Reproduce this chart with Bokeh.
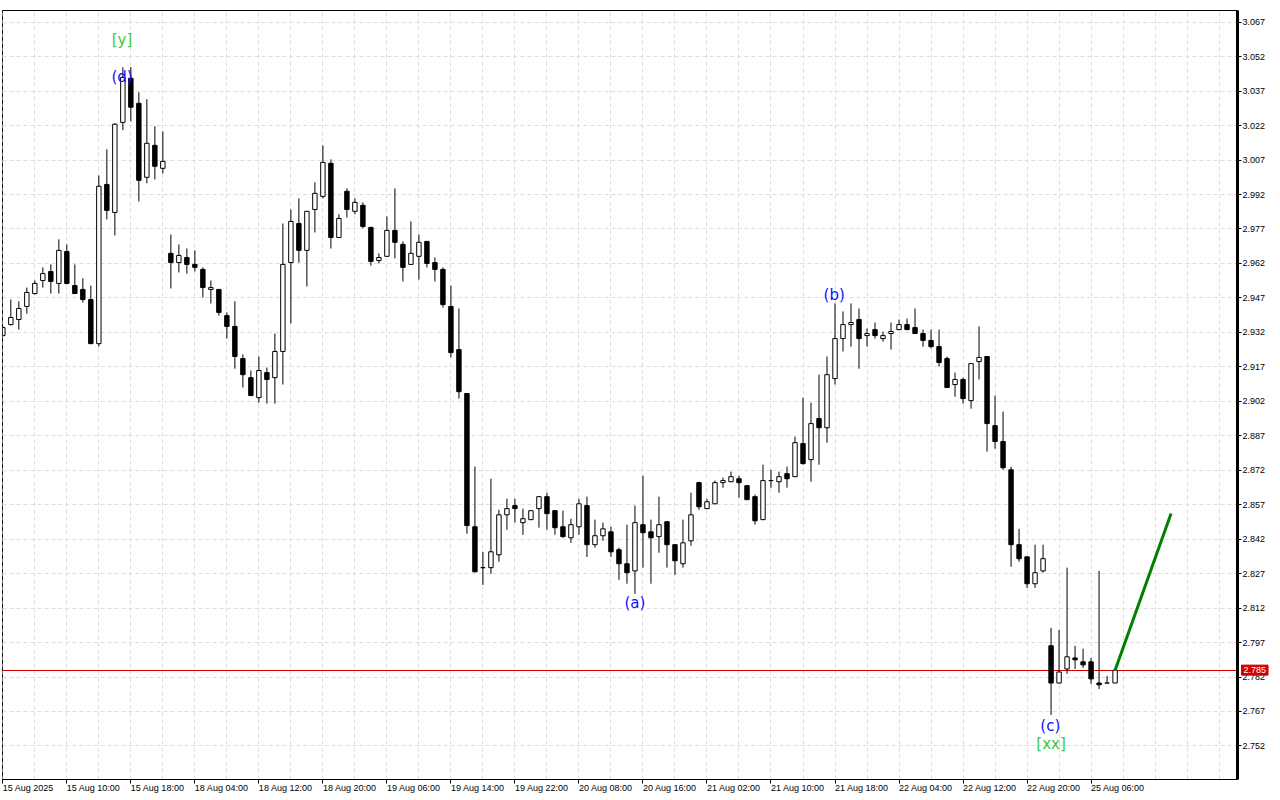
from bokeh.plotting import figure
from bokeh.models import Range1d, FixedTicker, Label, PrintfTickFormatter, ColumnDataSource
from bokeh.core.properties import value
from bokeh.embed import file_html
from bokeh.resources import INLINE

# ---------------- data (H1 candles) ----------------
opens = [2.9306, 2.9354, 2.9376, 2.9433, 2.9489, 2.9546, 2.9585, 2.9533, 2.9672, 2.9524,
         2.9507, 2.9463, 2.9271, 2.9964, 2.9842, 3.0234, 3.0426, 3.0317, 2.9995, 3.0134,
         3.0034, 2.9664, 2.9624, 2.9646, 2.9616, 2.9594, 2.9507, 2.9507, 2.9393, 2.9346,
         2.9206, 2.9123, 2.9036, 2.9145, 2.9123, 2.9237, 2.9624, 2.9794, 2.9677, 2.9855,
         2.9912, 3.0056, 2.9733, 2.9934, 2.9847, 2.9873, 2.9777, 2.9633, 2.9651, 2.9764,
         2.9703, 2.9616, 2.9651, 2.9716, 2.9624, 2.9594, 2.9433, 2.9245, 2.9054, 2.8474,
         2.8296, 2.8296, 2.8352, 2.8526, 2.8566, 2.8492, 2.8505, 2.8553, 2.8605, 2.8544,
         2.8474, 2.8426, 2.8474, 2.8566, 2.8396, 2.8435, 2.8452, 2.8374, 2.8313, 2.8282,
         2.8483, 2.8452, 2.8431, 2.8496, 2.8396, 2.8313, 2.8413, 2.8666, 2.8553, 2.8574,
         2.8666, 2.8670, 2.8683, 2.8653, 2.8605, 2.8505, 2.8675, 2.8670, 2.8705, 2.8692,
         2.8836, 2.8766, 2.8945, 2.8905, 2.9119, 2.9293, 2.9354, 2.9376, 2.9306, 2.9332,
         2.9293, 2.9315, 2.9332, 2.9354, 2.9341, 2.9315, 2.9285, 2.9258, 2.9206, 2.9093,
         2.9115, 2.9023, 2.9193, 2.9215, 2.8914, 2.8845, 2.8722, 2.8396, 2.8343, 2.8226,
         2.8282, 2.7956, 2.7794, 2.7855, 2.7903, 2.7886, 2.7886, 2.7794, 2.7794, 2.7794]
highs = [2.9346, 2.9463, 2.9455, 2.9515, 2.9546, 2.9603, 2.9616, 2.9725, 2.9703, 2.9616,
         2.9555, 2.9524, 3.0003, 3.0117, 3.0230, 3.0474, 3.0474, 3.0365, 3.0335, 3.0217,
         3.0195, 2.9746, 2.9703, 2.9685, 2.9677, 2.9603, 2.9546, 2.9509, 2.9407, 2.9455,
         2.9224, 2.9154, 2.9215, 2.9167, 2.9315, 2.9794, 2.9855, 2.9903, 2.9849, 2.9973,
         3.0134, 3.0073, 2.9834, 2.9947, 2.9903, 2.9886, 2.9779, 2.9664, 2.9825, 2.9947,
         2.9716, 2.9803, 2.9746, 2.9718, 2.9646, 2.9603, 2.9524, 2.9424, 2.9056, 2.8736,
         2.8365, 2.8683, 2.8548, 2.8596, 2.8596, 2.8553, 2.8546, 2.8607, 2.8622, 2.8546,
         2.8544, 2.8509, 2.8596, 2.8605, 2.8505, 2.8492, 2.8474, 2.8383, 2.8483, 2.8566,
         2.8696, 2.8505, 2.8605, 2.8498, 2.8398, 2.8505, 2.8622, 2.8670, 2.8596, 2.8675,
         2.8688, 2.8714, 2.8696, 2.8655, 2.8614, 2.8744, 2.8722, 2.8714, 2.8736, 2.8866,
         2.9036, 2.9014, 2.9136, 2.9215, 2.9446, 2.9411, 2.9446, 2.9424, 2.9337, 2.9363,
         2.9324, 2.9363, 2.9376, 2.9380, 2.9424, 2.9332, 2.9332, 2.9332, 2.9215, 2.9145,
         2.9123, 2.9186, 2.9346, 2.9217, 2.9045, 2.8975, 2.8736, 2.8465, 2.8345, 2.8396,
         2.8396, 2.8034, 2.8025, 2.8296, 2.7956, 2.7943, 2.7903, 2.8282, 2.7825, 2.7850]
lows = [2.9302, 2.9350, 2.9332, 2.9402, 2.9485, 2.9515, 2.9489, 2.9489, 2.9529, 2.9487,
        2.9450, 2.9269, 2.9258, 2.9812, 2.9742, 3.0200, 3.0239, 2.9890, 2.9969, 2.9986,
        3.0012, 2.9511, 2.9581, 2.9576, 2.9585, 2.9472, 2.9446, 2.9393, 2.9293, 2.9162,
        2.9080, 2.9043, 2.9014, 2.9010, 2.9010, 2.9093, 2.9359, 2.9624, 2.9520, 2.9755,
        2.9903, 2.9685, 2.9731, 2.9820, 2.9834, 2.9773, 2.9611, 2.9620, 2.9649, 2.9642,
        2.9542, 2.9614, 2.9550, 2.9603, 2.9542, 2.9428, 2.9211, 2.9032, 2.8444, 2.8276,
        2.8221, 2.8269, 2.8322, 2.8461, 2.8492, 2.8439, 2.8503, 2.8470, 2.8461, 2.8439,
        2.8426, 2.8404, 2.8439, 2.8343, 2.8383, 2.8413, 2.8343, 2.8243, 2.8226, 2.8182,
        2.8296, 2.8226, 2.8361, 2.8296, 2.8265, 2.8296, 2.8391, 2.8548, 2.8551, 2.8572,
        2.8644, 2.8668, 2.8601, 2.8590, 2.8483, 2.8503, 2.8644, 2.8622, 2.8644, 2.8690,
        2.8744, 2.8670, 2.8744, 2.8840, 2.9093, 2.9237, 2.9258, 2.9162, 2.9258, 2.9293,
        2.9280, 2.9245, 2.9330, 2.9330, 2.9313, 2.9258, 2.9250, 2.9171, 2.9078, 2.9040,
        2.9010, 2.8988, 2.9115, 2.8801, 2.8814, 2.8722, 2.8300, 2.8322, 2.8208, 2.8208,
        2.8274, 2.7655, 2.7792, 2.7834, 2.7855, 2.7860, 2.7790, 2.7768, 2.7794, 2.7794]
closes = [2.9341, 2.9385, 2.9424, 2.9494, 2.9533, 2.9576, 2.9542, 2.9677, 2.9533, 2.9489,
          2.9463, 2.9271, 2.9956, 2.9851, 3.0226, 3.0430, 3.0300, 2.9982, 3.0143, 3.0043,
          3.0064, 2.9624, 2.9655, 2.9616, 2.9603, 2.9515, 2.9515, 2.9407, 2.9346, 2.9215,
          2.9136, 2.9045, 2.9154, 2.9115, 2.9237, 2.9616, 2.9803, 2.9677, 2.9847, 2.9925,
          3.0060, 2.9733, 2.9816, 2.9855, 2.9886, 2.9781, 2.9629, 2.9646, 2.9764, 2.9712,
          2.9603, 2.9664, 2.9712, 2.9620, 2.9594, 2.9441, 2.9232, 2.9062, 2.8479, 2.8278,
          2.8296, 2.8365, 2.8526, 2.8553, 2.8553, 2.8509, 2.8544, 2.8605, 2.8531, 2.8470,
          2.8431, 2.8483, 2.8574, 2.8396, 2.8435, 2.8465, 2.8365, 2.8313, 2.8274, 2.8492,
          2.8448, 2.8426, 2.8483, 2.8396, 2.8326, 2.8404, 2.8526, 2.8561, 2.8583, 2.8666,
          2.8675, 2.8692, 2.8666, 2.8592, 2.8500, 2.8675, 2.8675, 2.8692, 2.8683, 2.8840,
          2.8749, 2.8923, 2.8905, 2.9136, 2.9293, 2.9354, 2.9363, 2.9293, 2.9315, 2.9306,
          2.9306, 2.9324, 2.9354, 2.9332, 2.9315, 2.9285, 2.9258, 2.9189, 2.9080, 2.9115,
          2.9032, 2.9184, 2.9211, 2.8923, 2.8845, 2.8731, 2.8396, 2.8335, 2.8226, 2.8274,
          2.8335, 2.7794, 2.7842, 2.7908, 2.7895, 2.7873, 2.7812, 2.7786, 2.7794, 2.785]

time_labels = {0: "15 Aug 2025", 8: "15 Aug 10:00", 16: "15 Aug 18:00", 24: "18 Aug 04:00",
               32: "18 Aug 12:00", 40: "18 Aug 20:00", 48: "19 Aug 06:00", 56: "19 Aug 14:00",
               64: "19 Aug 22:00", 72: "20 Aug 08:00", 80: "20 Aug 16:00", 88: "21 Aug 02:00",
               96: "21 Aug 10:00", 104: "21 Aug 18:00", 112: "22 Aug 04:00", 120: "22 Aug 12:00",
               128: "22 Aug 20:00", 136: "25 Aug 06:00"}
price_ticks = [3.067, 3.052, 3.037, 3.022, 3.007, 2.992, 2.977, 2.962, 2.947, 2.932, 2.917,
               2.902, 2.887, 2.872, 2.857, 2.842, 2.827, 2.812, 2.797, 2.782, 2.767, 2.752]

wave_text = ["[y]", "(d)", "(a)", "(b)", "(c)", "[xx]"]
wave_x = [14.9, 14.9, 79.0, 103.9, 130.9, 131.0]
wave_y = [3.0592, 3.0433, 2.8141, 2.9483, 2.7609, 2.7529]
wave_color = ["#3ec83e", "#1010ff", "#1010ff", "#1010ff", "#1010ff", "#3ec83e"]

projection_x = [139, 146]
projection_y = [2.785, 2.8532]

PRICE_RED = "#d00000"

# ---------------- figure ----------------
n = len(opens)
idx = list(range(n))
up = [c >= o for o, c in zip(opens, closes)]
src = ColumnDataSource(dict(
    x=idx, high=highs, low=lows,
    top=[max(o, c) for o, c in zip(opens, closes)],
    bottom=[min(o, c) for o, c in zip(opens, closes)],
    fill=["white" if u else "black" for u in up],
))

x_range = Range1d(-0.04, 154.3)
p = figure(width=1280, height=800, x_range=x_range, y_range=Range1d(2.7374, 3.0721),
           y_axis_location="right", toolbar_location=None, output_backend="svg",
           min_border_left=2, min_border_top=3, min_border_right=43, min_border_bottom=19,
           background_fill_color="white", border_fill_color="white")
p.outline_line_color = "black"
p.outline_line_width = 1

FONT = "Liberation Sans"
p.xaxis.ticker = FixedTicker(ticks=list(time_labels.keys()))
p.xaxis.major_label_overrides = time_labels
p.xaxis.major_label_orientation = -0.0001   # numeric -> labels start at the tick
p.xaxis.major_tick_in = 0
p.xaxis.major_tick_out = 4
p.xaxis.minor_tick_line_color = None
p.xaxis.major_label_standoff = 4
p.xaxis.axis_label_standoff = 0
p.xaxis.major_label_text_font = FONT
p.xaxis.major_label_text_font_size = "9px"
p.xaxis.major_label_text_color = "black"
p.xaxis.axis_line_color = "black"

p.yaxis.ticker = FixedTicker(ticks=price_ticks)
p.yaxis.formatter = PrintfTickFormatter(format="%.3f")
p.yaxis.axis_line_width = 3
p.yaxis.axis_line_color = "black"
p.yaxis.major_tick_in = 0
p.yaxis.major_tick_out = 4
p.yaxis.minor_tick_line_color = None
p.yaxis.major_label_standoff = 1
p.yaxis.axis_label_standoff = 0
p.yaxis.major_label_text_font = FONT
p.yaxis.major_label_text_font_size = "9px"
p.yaxis.major_label_text_color = "black"

p.xgrid.ticker = FixedTicker(ticks=list(range(0, 156, 4)))
for g in (p.xgrid, p.ygrid):
    g.grid_line_color = "#dedede"
    g.grid_line_dash = "4 3"
    g.grid_line_width = 1

# current price line (beneath candles)
try:
    p.hspan(y=[closes[-1]], line_color=PRICE_RED, line_width=1)
except Exception:
    p.segment(x0=[x_range.start], y0=[closes[-1]], x1=[x_range.end], y1=[closes[-1]],
              line_color=PRICE_RED, line_width=1)

# candles
p.segment(x0="x", y0="low", x1="x", y1="high", source=src, line_color="black", line_width=1)
p.vbar(x="x", width=0.55, top="top", bottom="bottom", source=src,
       fill_color="fill", line_color="black", line_width=1)

# projection
p.line(projection_x, projection_y, line_color="#008000", line_width=3)

# wave labels
p.text(x=wave_x, y=wave_y, text=wave_text, text_color=wave_color,
       text_font=value("DejaVu Sans"), text_font_size="15px",
       text_align="center", text_baseline="middle")

# price tag on the right scale (kept in a side panel so it is not clipped to the frame)
tag = Label(x=x_range.end, y=closes[-1], x_offset=4, text=f"{closes[-1]:.3f}",
            text_align="left", text_baseline="middle", text_color="white",
            text_font=FONT, text_font_size="9px",
            background_fill_color=PRICE_RED, border_line_color=PRICE_RED,
            border_line_width=1, padding=2)
p.add_layout(tag, "above")

open("out.html", "w").write(file_html(p, INLINE))
